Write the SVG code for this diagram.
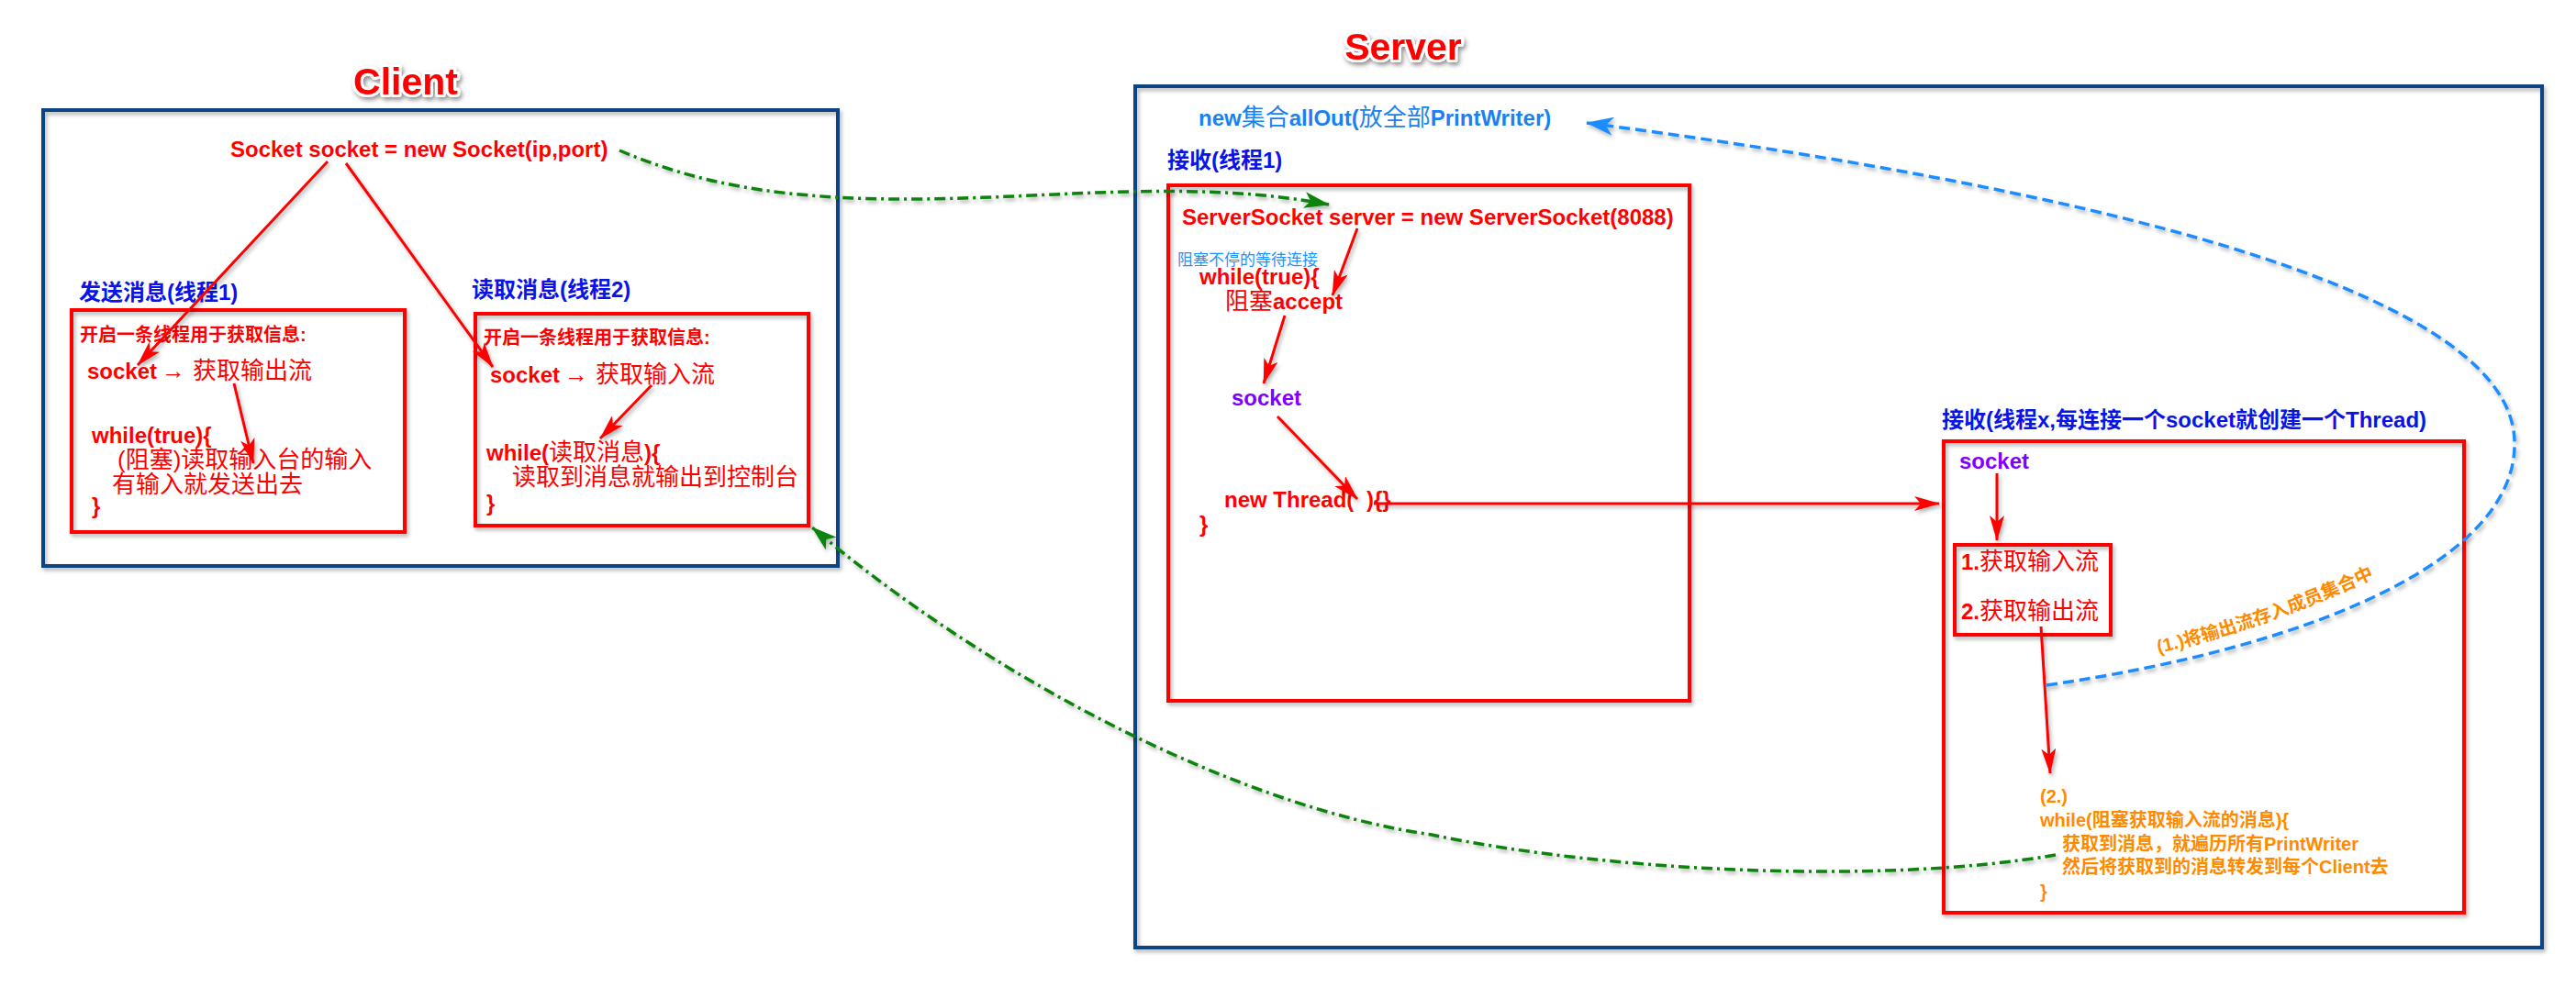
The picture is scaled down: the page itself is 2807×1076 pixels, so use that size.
<svg xmlns="http://www.w3.org/2000/svg" width="2807" height="1076" viewBox="0 0 2807 1076">
<style>
text{font-family:"Liberation Sans","Noto Sans CJK SC",sans-serif;}
.title{font-size:41px;font-weight:bold;fill:#ff0000;stroke:#ffffff;stroke-width:6px;stroke-linejoin:round;paint-order:stroke fill;}
.navy{fill:none;stroke:#0f4584;stroke-width:4;}
.rbox{fill:none;stroke:#ff0000;stroke-width:4;}
.code{font-size:24px;font-weight:bold;fill:#ff0000;}
.cjk{font-size:26px;font-weight:normal;}
.lbl{font-size:24px;font-weight:bold;fill:#0a14e6;}
.hint{font-size:20px;font-weight:bold;fill:#ff0000;}
.purple{font-size:24px;font-weight:bold;fill:#8000ff;}
.orange{font-size:20px;font-weight:bold;fill:#ff8a00;}
.arr{stroke:#ff0000;stroke-width:3;fill:none;marker-end:url(#ahR);}
.green{fill:none;stroke:#0a820a;stroke-width:3.5;stroke-dasharray:12 5 3 5;marker-end:url(#ahG);}
.blue{fill:none;stroke:#1e8cff;stroke-width:3.5;stroke-dasharray:12 6;marker-end:url(#ahB);}
</style>
<defs>
<filter id="sh" filterUnits="userSpaceOnUse" x="0" y="0" width="2807" height="1076">
<feDropShadow dx="2" dy="3" stdDeviation="2" flood-color="#000" flood-opacity="0.3"/>
</filter>
<filter id="tsh" filterUnits="userSpaceOnUse" x="0" y="0" width="2807" height="1076">
<feDropShadow dx="2" dy="3" stdDeviation="2.5" flood-color="#000" flood-opacity="0.45"/>
</filter>
<marker id="ahR" viewBox="0 0 28 16" refX="27" refY="8" markerWidth="28" markerHeight="16" markerUnits="userSpaceOnUse" orient="auto">
<path d="M0,0 L28,8 L0,16 L7,8 Z" fill="#ff0000"/>
</marker>
<marker id="ahG" viewBox="0 0 28 18" refX="27" refY="9" markerWidth="28" markerHeight="18" markerUnits="userSpaceOnUse" orient="auto">
<path d="M0,0 L28,9 L0,18 L7,9 Z" fill="#0a820a"/>
</marker>
<marker id="ahB" viewBox="0 0 30 20" refX="29" refY="10" markerWidth="30" markerHeight="20" markerUnits="userSpaceOnUse" orient="auto">
<path d="M0,0 L30,10 L0,20 L8,10 Z" fill="#1e8cff"/>
</marker>
<path id="curveLbl" d="M2352,712 Q2471,685 2600,624"/>
</defs>
<rect x="0" y="0" width="2807" height="1076" fill="#ffffff"/>

<g id="client">
<text class="title" x="442" y="103" text-anchor="middle" filter="url(#tsh)">Client</text>
<rect class="navy" x="47" y="120" width="866" height="497" filter="url(#sh)"/>
<text class="code" x="251" y="171">Socket socket = new Socket(ip,port)</text>
</g>

<g id="client-send">
<text class="lbl" x="86" y="327">发送消息(线程1)</text>
<rect class="rbox" x="78" y="338" width="363" height="242" filter="url(#sh)"/>
<text class="hint" x="87" y="372">开启一条线程用于获取信息:</text>
<text class="code" x="95" y="413">socket<tspan class="cjk" x="176" font-size="22">→</tspan><tspan class="cjk" x="210">获取输出流</tspan></text>
<text class="code" x="100" y="483">while(true){</text>
<text class="code cjk" x="128" y="510" fill="#ff0000">(阻塞)读取输入台的输入</text>
<text class="code cjk" x="122" y="537" fill="#ff0000">有输入就发送出去</text>
<text class="code" x="100" y="560">}</text>
</g>

<g id="client-read">
<text class="lbl" x="514" y="324">读取消息(线程2)</text>
<rect class="rbox" x="518" y="342" width="363" height="231" filter="url(#sh)"/>
<text class="hint" x="527" y="375">开启一条线程用于获取信息:</text>
<text class="code" x="534" y="417">socket<tspan class="cjk" x="615" font-size="22">→</tspan><tspan class="cjk" x="649">获取输入流</tspan></text>
<text class="code" x="530" y="502">while(<tspan class="cjk">读取消息</tspan>){</text>
<text class="code cjk" x="558" y="529" fill="#ff0000">读取到消息就输出到控制台</text>
<text class="code" x="530" y="557">}</text>
</g>

<g id="server">
<text class="title" x="1529" y="65" text-anchor="middle" filter="url(#tsh)">Server</text>
<rect class="navy" x="1237" y="94" width="1533" height="939" filter="url(#sh)"/>
<text x="1306" y="137" font-size="24" font-weight="bold" fill="#1a82f0">new<tspan class="cjk">集合</tspan>allOut(<tspan class="cjk">放全部</tspan>PrintWriter)</text>
</g>

<g id="server-accept">
<text class="lbl" x="1272" y="183">接收(线程1)</text>
<rect class="rbox" x="1273" y="202" width="568" height="562" filter="url(#sh)"/>
<text class="code" x="1288" y="245">ServerSocket server = new ServerSocket(8088)</text>
<text x="1283" y="289" font-size="17" fill="#1e90ff">阻塞不停的等待连接</text>
<text class="code" x="1307" y="310">while(true){</text>
<text class="code" x="1335" y="337"><tspan class="cjk">阻塞</tspan>accept</text>
<text class="purple" x="1342" y="442">socket</text>
<text class="code" x="1334" y="553">new Thread(</text>
<text class="code" x="1489" y="553">){}</text>
<text class="code" x="1307" y="580">}</text>
</g>

<g id="server-thread">
<text class="lbl" x="2116" y="466">接收(线程x,每连接一个socket就创建一个Thread)</text>
<rect class="rbox" x="2118" y="481" width="567" height="514" filter="url(#sh)"/>
<text class="purple" x="2135" y="511">socket</text>
<text class="orange"><textPath href="#curveLbl">(1.)将输出流存入成员集合中</textPath></text>
<text class="orange" x="2223" y="875">(2.)</text>
<text class="orange" x="2223" y="901">while(阻塞获取输入流的消息){</text>
<text class="orange" x="2247" y="927">获取到消息，就遍历所有PrintWriter</text>
<text class="orange" x="2247" y="952">然后将获取到的消息转发到每个Client去</text>
<text class="orange" x="2223" y="979">}</text>
</g>

<g id="server-streams">
<rect class="rbox" x="2130" y="594" width="170" height="98" filter="url(#sh)"/>
<text class="code" x="2137" y="621">1.<tspan class="cjk">获取输入流</tspan></text>
<text class="code" x="2137" y="675">2.<tspan class="cjk">获取输出流</tspan></text>
</g>

<g id="connectors" filter="url(#sh)">
<path class="green" d="M675,164 C760,200 850,218 1000,217 C1150,216 1300,195 1448,223"/>
<path class="green" d="M2240,932 C2050,965 1750,950 1560,910 C1350,880 1080,740 885,575"/>
<path class="blue" d="M2230,747 C2520,705 2745,610 2740,480 C2735,330 2350,215 1729,134"/>
<line class="arr" x1="357" y1="176" x2="150" y2="398"/>
<line class="arr" x1="377" y1="178" x2="537" y2="400"/>
<line class="arr" x1="255" y1="418" x2="276" y2="505"/>
<line class="arr" x1="710" y1="420" x2="654" y2="478"/>
<line class="arr" x1="1479" y1="249" x2="1452" y2="322"/>
<line class="arr" x1="1400" y1="344" x2="1377" y2="418"/>
<line class="arr" x1="1392" y1="454" x2="1479" y2="544"/>
<line class="arr" x1="1497" y1="549" x2="2113" y2="549"/>
<line class="arr" x1="2176" y1="516" x2="2176" y2="589"/>
<line class="arr" x1="2224" y1="683" x2="2234" y2="843"/>
</g>
</svg>
